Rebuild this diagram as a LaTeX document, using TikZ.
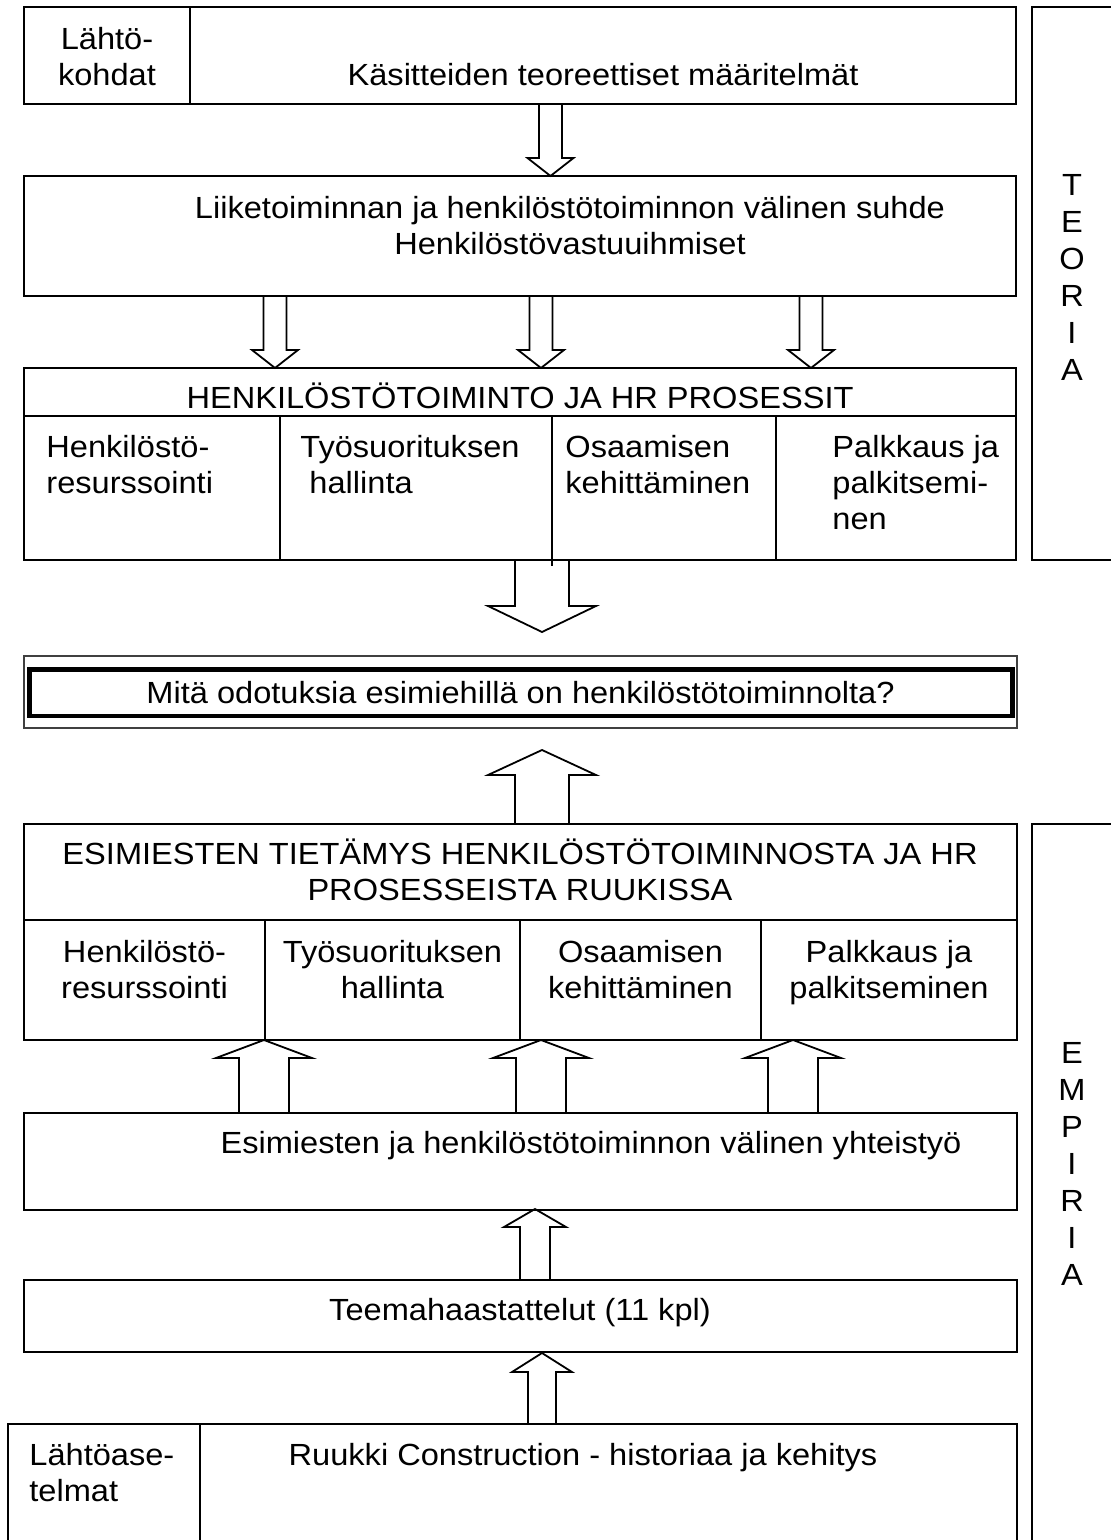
\documentclass[tikz,border=0pt]{standalone}
\usepackage{fontspec}
\setmainfont[FakeStretch=1.065]{Liberation Sans}
\usetikzlibrary{fit}
% multi-line text whose base is the first line's baseline
\newcommand\txtlines[2]{\begin{tabular}[t]{@{}#1@{}}#2\end{tabular}}

\begin{document}
\begin{tikzpicture}[x=0.5pt,y=-0.5pt,
  every node/.style={font=\fontsize{15.3pt}{18pt}\selectfont},
  box/.style={draw, line width=0.9pt, inner sep=0pt, outer sep=0pt},
  rule/.style={line width=0.9pt},
  txt/.style={inner sep=0pt, anchor=base},
  txtl/.style={inner sep=0pt, anchor=base west},
  vtxt/.style={inner sep=0pt, anchor=base, font=\fontsize{15.3pt}{18.5pt}\selectfont},
  arrowline/.style={line width=0.9pt},
  % hollow block arrow: shaft half width, head half width, head base offset, tip offset
  pics/blockarrow/.style n args={4}{code={
    \draw[arrowline] (-#1,0) -- (-#1,#3) -- (-#2,#3) -- (0,#4) -- (#2,#3) -- (#1,#3) -- (#1,0);
  }}
]
\useasboundingbox (0,0) rectangle (1111,1540);
\clip (0,0) rectangle (1111,1540);

% ---------- theory part ----------
\node[box, fit={(24,7) (1016,104)}] (b1) {};
\draw[rule] (190,0 |- b1.north) -- (190,0 |- b1.south);
\node[txt] (b1l) at (107,50) {\txtlines{c}{Lähtö-\\kohdat}};
\node[txt] (b1r) at (603,86) {Käsitteiden teoreettiset määritelmät};

\pic (a1) at (550.5,0 |- b1.south) {blockarrow={11.5}{23}{54}{72}};

\node[box, fit={(24,176) (1016,296)}] (b2) {};
\node[txt] (b2t) at (570,219) {\txtlines{c}{Liiketoiminnan ja henkilöstötoiminnon välinen suhde\\Henkilöstövastuuihmiset}};

\pic (a2) at (275,0 |- b2.south) {blockarrow={11.5}{23}{54}{72}};
\pic (a3) at (541,0 |- b2.south) {blockarrow={11.5}{23}{54}{72}};
\pic (a4) at (811,0 |- b2.south) {blockarrow={11.5}{23}{54}{72}};

\node[box, fit={(24,368) (1016,560)}] (b3) {};
\draw[rule] (b3.west |- 0,416) -- (b3.east |- 0,416);
\draw[rule] (280,416) -- (280,0 |- b3.south);
\draw[rule] (552,416) -- (552,566);
\draw[rule] (776,416) -- (776,0 |- b3.south);
\node[txt] (b3h) at (520,408) {HENKILÖSTÖTOIMINTO JA HR PROSESSIT};
\node[txtl] (b3c1) at (46,457) {\txtlines{l}{Henkilöstö-\\resurssointi}};
\node[txtl] (b3c2) at (300,457) {\txtlines{l}{Työsuorituksen\\\ hallinta}};
\node[txtl] (b3c3) at (565,457) {\txtlines{l}{Osaamisen\\kehittäminen}};
\node[txtl] (b3c4) at (832,457) {\txtlines{l}{Palkkaus ja\\palkitsemi-\\nen}};

\node[box, fit={(1032,7) (1120,560)}] (teoria) {};
\node[vtxt] (teoriat) at (1072,196) {\txtlines{c}{T\\E\\O\\R\\I\\A}};

\pic (a5) at (542,0 |- b3.south) {blockarrow={27}{54}{46}{72}};

% ---------- research question ----------
\node[draw=black!75, line width=0.7pt, inner sep=0pt, fit={(24,656) (1017,728)}] (q) {};
\node[draw, line width=2.2pt, inner sep=0pt, fit={(29.5,669.5) (1012.5,716)}] (qin) {};
\node[txt] (qt) at (520.5,703) {Mitä odotuksia esimiehillä on henkilöstötoiminnolta?};

% ---------- empirical part ----------
\node[box, fit={(24,824) (1017,1040)}] (b5) {};
\pic (a6) at (542,0 |- b5.north) {blockarrow={27}{54}{-49}{-74}};
\draw[rule] (b5.west |- 0,920) -- (b5.east |- 0,920);
\draw[rule] (265,920) -- (265,0 |- b5.south);
\draw[rule] (520,920) -- (520,0 |- b5.south);
\draw[rule] (761,920) -- (761,0 |- b5.south);
\node[txt] (b5h) at (520,864) {\txtlines{c}{ESIMIESTEN TIETÄMYS HENKILÖSTÖTOIMINNOSTA JA HR\\PROSESSEISTA RUUKISSA}};
\node[txt] (b5c1) at (144.5,962) {\txtlines{c}{Henkilöstö-\\resurssointi}};
\node[txt] (b5c2) at (392.5,962) {\txtlines{c}{Työsuorituksen\\hallinta}};
\node[txt] (b5c3) at (640.5,962) {\txtlines{c}{Osaamisen\\kehittäminen}};
\node[txt] (b5c4) at (889,962) {\txtlines{c}{Palkkaus ja\\palkitseminen}};

\node[box, fit={(24,1113) (1017,1210)}] (b6) {};
\node[txt] (b6t) at (591,1153) {Esimiesten ja henkilöstötoiminnon välinen yhteistyö};
\pic (a7) at (264,0 |- b6.north) {blockarrow={25}{48}{-55}{-73}};
\pic (a8) at (541,0 |- b6.north) {blockarrow={25}{48}{-55}{-73}};
\pic (a9) at (793,0 |- b6.north) {blockarrow={25}{48}{-55}{-73}};

\node[box, fit={(24,1280) (1017,1352)}] (b7) {};
\node[txt] (b7t) at (520,1320) {Teemahaastattelut (11 kpl)};
\pic (a10) at (535,0 |- b7.north) {blockarrow={15}{31}{-53}{-71}};

\node[box, fit={(8,1424) (1017,1570)}] (b8) {};
\draw[rule] (200,0 |- b8.north) -- (200,0 |- b8.south);
\node[txtl] (b8l) at (29,1465) {\txtlines{l}{Lähtöase-\\telmat}};
\node[txt] (b8r) at (583,1465) {Ruukki Construction - historiaa ja kehitys};
\pic (a11) at (542,0 |- b8.north) {blockarrow={14}{30}{-52}{-71}};

\node[box, fit={(1032,824) (1120,1570)}] (empiria) {};
\node[vtxt] (empiriat) at (1072,1063) {\txtlines{c}{E\\M\\P\\I\\R\\I\\A}};
\end{tikzpicture}
\end{document}
